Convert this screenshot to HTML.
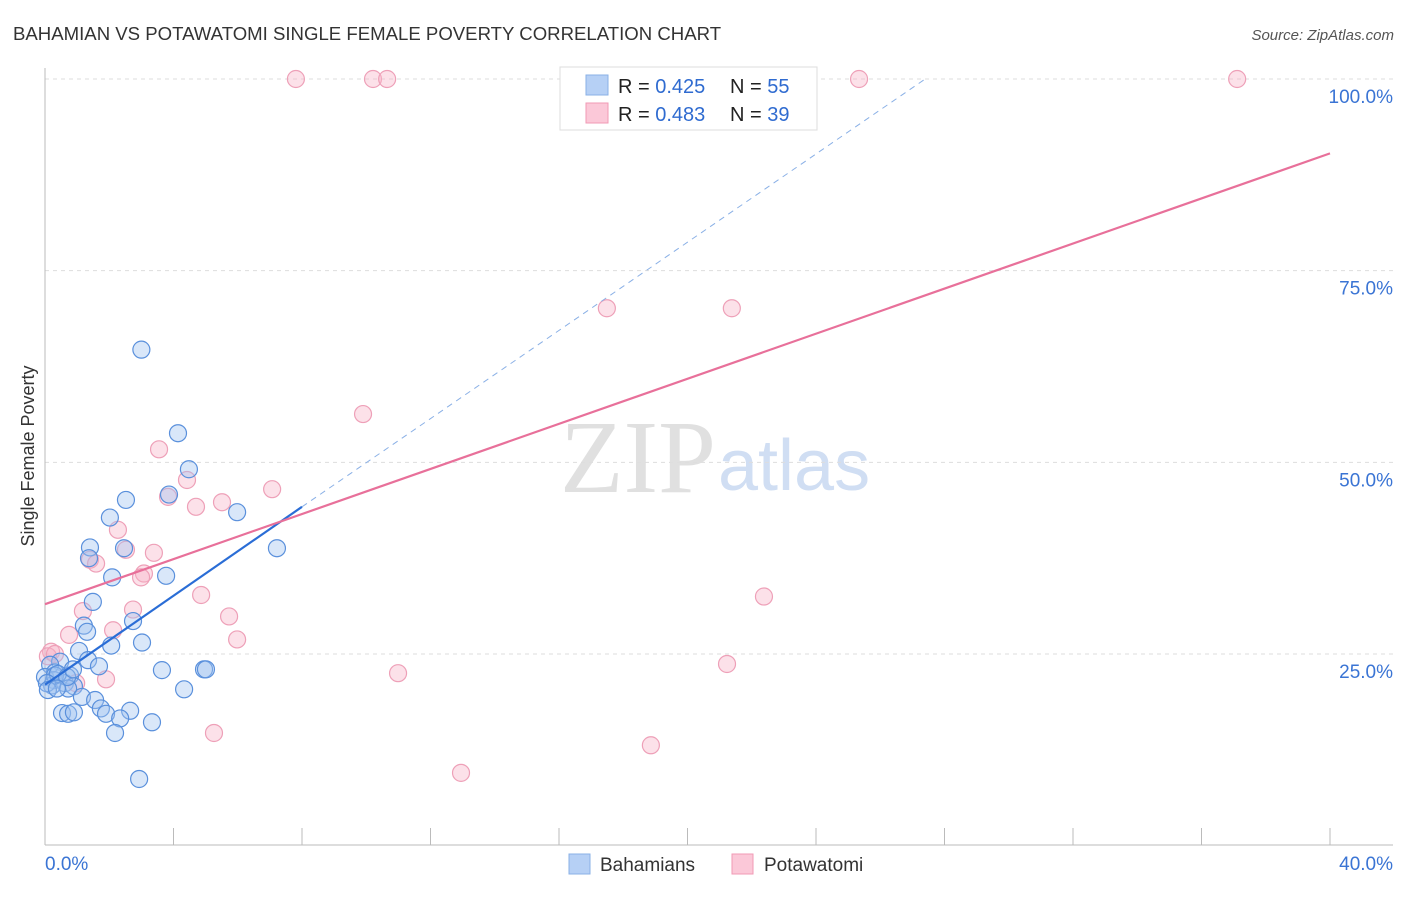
<!DOCTYPE html>
<html><head><meta charset="utf-8"><style>
body{margin:0;background:#fff;font-family:"Liberation Sans",sans-serif;}
svg text{font-family:"Liberation Sans",sans-serif;}
</style></head><body>
<svg id="chart" width="1406" height="892" xmlns="http://www.w3.org/2000/svg">
<text x="13" y="40" font-size="18.6" fill="#333">BAHAMIAN VS POTAWATOMI SINGLE FEMALE POVERTY CORRELATION CHART</text>
<text x="1394" y="40" font-size="15" fill="#555" font-style="italic" text-anchor="end">Source: ZipAtlas.com</text>
<text x="34" y="456" font-size="18" fill="#333" text-anchor="middle" transform="rotate(-90 34 456)">Single Female Poverty</text>
<text x="716" y="492" font-size="104" fill="#e0e0e0" text-anchor="end" font-family="Liberation Serif" style="font-family:'Liberation Serif',serif">ZIP</text>
<text x="718" y="490" font-size="72" fill="#d0def3">atlas</text>
<g id="grid"></g><g id="axes"></g><g id="pts"></g><g id="lines"></g>
<g>
<rect x="560" y="67" width="257" height="63" fill="#fff" stroke="#ddd"/>
<rect x="586" y="75" width="22" height="20" fill="#b6d0f5" stroke="#8ab0e6"/>
<rect x="586" y="103" width="22" height="20" fill="#fbc8d8" stroke="#f09ab5"/>
<text x="618" y="93" font-size="20" fill="#222">R = <tspan fill="#2f6bd0">0.425</tspan><tspan x="730">N = </tspan><tspan fill="#2f6bd0">55</tspan></text>
<text x="618" y="121" font-size="20" fill="#222">R = <tspan fill="#2f6bd0">0.483</tspan><tspan x="730">N = </tspan><tspan fill="#2f6bd0">39</tspan></text>
</g>
<g>
<rect x="569" y="854" width="21" height="20" fill="#b6d0f5" stroke="#8ab0e6"/>
<text x="600" y="871" font-size="19" fill="#333">Bahamians</text>
<rect x="732" y="854" width="21" height="20" fill="#fbc8d8" stroke="#f09ab5"/>
<text x="764" y="871" font-size="19" fill="#333">Potawatomi</text>
</g>
</svg>
<script>
const xTicks=[0,40];
const yTicks=[25,50,75,100];
const blueX=[3.0,4.14,4.48,3.86,2.52,2.02,5.98,1.40,2.46,7.22,1.37,2.09,3.77,1.49,1.21,1.31,2.74,2.06,3.02,1.06,1.34,0.47,0.16,1.68,3.64,4.95,5.01,0.31,0.0,0.78,0.28,0.62,0.22,0.90,0.72,4.33,1.15,1.56,1.74,2.65,0.53,0.72,0.90,1.90,2.34,3.33,2.18,2.93,0.31,0.40,0.06,0.69,0.87,0.09,0.37];
const blueY=[64.7,53.8,49.1,45.8,45.1,42.8,43.5,38.9,38.8,38.8,37.5,35.0,35.2,31.8,28.7,27.9,29.3,26.1,26.5,25.4,24.2,24.0,23.6,23.4,22.9,23.0,23.0,22.6,22.0,22.2,21.6,21.2,20.9,20.8,20.5,20.4,19.4,19.0,17.9,17.6,17.3,17.2,17.4,17.2,16.6,16.1,14.7,8.7,22.2,22.4,21.2,22.0,23.0,20.3,20.5];
const pinkX=[7.81,10.21,10.65,25.34,37.11,17.49,21.38,9.90,3.55,4.42,3.83,4.70,5.51,7.07,2.27,2.52,3.39,1.40,1.59,3.08,2.99,1.18,2.74,4.86,5.73,5.98,2.12,0.75,22.38,21.23,0.19,0.09,10.99,1.90,0.97,5.26,18.86,12.95,0.31];
const pinkY=[100,100,100,100,100,70.1,70.1,56.3,51.7,47.7,45.5,44.2,44.8,46.5,41.2,38.6,38.2,37.3,36.8,35.5,35.0,30.6,30.8,32.7,29.9,26.9,28.1,27.5,32.5,23.7,25.3,24.7,22.5,21.7,21.2,14.7,13.1,9.5,25.0];
const blueLine=[0,21.0,8.0,44.2,27.4,100];
const pinkLine=[0,31.5,40,90.3];
const NS="http://www.w3.org/2000/svg";
const X=v=>45+v*32.125, Y=v=>845.7-v*7.667;
function el(p,t,a){const e=document.createElementNS(NS,t);for(const k in a)e.setAttribute(k,a[k]);document.getElementById(p).appendChild(e);return e;}
yTicks.forEach(t=>{
 let g=el('grid','line',{x1:45,x2:1393,y1:Y(t),y2:Y(t),stroke:'#ddd','stroke-dasharray':'4 4'});
 
 
 let tx=el('axes','text',{x:1393,y:Y(t)+24,'font-size':19,fill:'#3a74d4','text-anchor':'end'});tx.textContent=t.toFixed(1)+'%';
 
 
});
el('axes','line',{x1:45,x2:45,y1:68,y2:845,stroke:'#bbb'});
el('axes','line',{x1:45,x2:1393,y1:845,y2:845,stroke:'#bbb'});
for(let i=0;i<=10;i++){let t=el('axes','line',{x1:X(i*4),x2:X(i*4),y1:828,y2:845,stroke:'#bbb'});
 
 }
xTicks.forEach((t,i)=>{let tx=el('axes','text',{x:i?1393:45,y:870,'font-size':19,fill:'#3a74d4','text-anchor':i?'end':'start'});tx.textContent=t.toFixed(1)+'%';
 
 });
pinkX.forEach((x,i)=>{let c=el('pts','circle',{cx:X(x),cy:Y(pinkY[i]),r:8.5,fill:'rgba(248,180,200,0.4)',stroke:'#eea0b8','stroke-width':1.2});
 
 });
blueX.forEach((x,i)=>{let c=el('pts','circle',{cx:X(x),cy:Y(blueY[i]),r:8.5,fill:'rgba(160,196,240,0.4)',stroke:'#5a90dc','stroke-width':1.2});
 
 });
let b=el('lines','line',{x1:X(blueLine[0]),y1:Y(blueLine[1]),x2:X(blueLine[2]),y2:Y(blueLine[3]),stroke:'#2a6dd6','stroke-width':2.2});


let bd=el('lines','line',{x1:X(blueLine[2]),y1:Y(blueLine[3]),x2:X(blueLine[4]),y2:Y(blueLine[5]),stroke:'#8ab0e6','stroke-width':1,'stroke-dasharray':'6 5'});


let p=el('lines','line',{x1:X(pinkLine[0]),y1:Y(pinkLine[1]),x2:X(pinkLine[2]),y2:Y(pinkLine[3]),stroke:'#e8709a','stroke-width':2.2});


</script>
</body></html>
